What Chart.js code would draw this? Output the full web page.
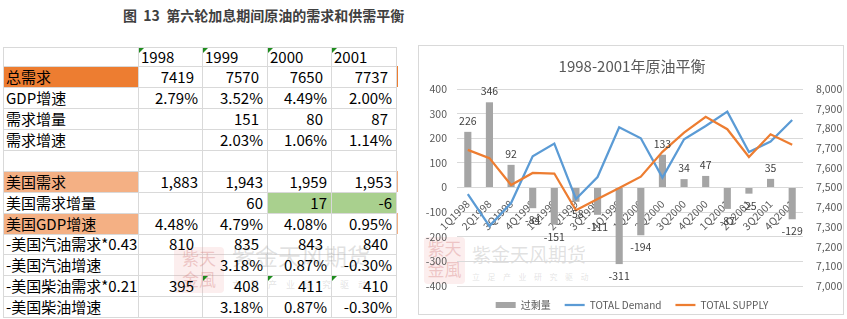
<!DOCTYPE html>
<html>
<head>
<meta charset="utf-8">
<script src="https://cdn.jsdelivr.net/npm/chart.js@4.4.1/dist/chart.umd.min.js"></script>
<style>
html,body{margin:0;padding:0;background:#fff;width:847px;height:319px;overflow:hidden;
  font-family:"Noto Sans CJK SC","Noto Sans",sans-serif;}
#pageTitle{position:absolute;left:123px;top:5px;font-size:14px;font-weight:bold;color:#404040;white-space:pre;line-height:20px;}
#tbl{position:absolute;left:0;top:0;width:420px;height:319px;}
.cell{position:absolute;box-sizing:border-box;white-space:nowrap;font-size:15px;color:#000;line-height:21px;}
.hl{position:absolute;height:1px;background:#D9D9D9;}
.vl{position:absolute;width:1px;background:#D9D9D9;}
.tri{position:absolute;width:0;height:0;border-top:5px solid #1E8C1E;border-right:5px solid transparent;}
.wm{position:absolute;color:rgba(150,150,150,0.28);white-space:nowrap;}
.logo{position:absolute;border-radius:4px;background:rgba(235,150,150,0.16);color:rgba(210,120,120,0.35);
  font-size:17px;line-height:21px;text-align:center;font-family:"Noto Sans CJK SC",serif;}
#chartBox{position:absolute;left:418px;top:45px;width:426px;height:270px;box-sizing:border-box;border:1px solid #D9D9D9;}
#chartWrap{position:absolute;left:419px;top:45px;width:426px;height:275px;}
</style>
</head>
<body>
<div id="pageTitle">图  13  第六轮加息期间原油的需求和供需平衡</div>
<div id="tbl"></div>
<div id="chartBox"></div>
<div class="logo" style="left:424px;top:237px;width:41px;height:47px;">紫天<br>金風</div>
<div class="wm" style="left:472px;top:241px;font-size:19px;line-height:26px;">紫金天风期货</div>
<div class="wm" style="left:472px;top:272px;font-size:8px;letter-spacing:7.5px;line-height:10px;">立足产业研究驱动</div>
<div id="chartWrap"><canvas id="c"></canvas></div>
<script>
// ---------- table data ----------
const years = ['1998', '1999', '2000', '2001'];
const rowLabels = ['总需求', 'GDP增速', '需求增量', '需求增速', '', '美国需求', '美国需求增量', '美国GDP增速',
  '-美国汽油需求*0.43', '-美国汽油增速', '-美国柴油需求*0.21', '-美国柴油增速'];
const totalDemandYear = ['7419', '7570', '7650', '7737'];
const gdpGrowth = ['2.79%', '3.52%', '4.49%', '2.00%'];
const demandIncrease = ['', '151', '80', '87'];
const demandGrowth = ['', '2.03%', '1.06%', '1.14%'];
const blankRow = ['', '', '', ''];
const usDemand = ['1,883', '1,943', '1,959', '1,953'];
const usDemandIncrease = ['', '60', '17', '-6'];
const usGdpGrowth = ['4.48%', '4.79%', '4.08%', '0.95%'];
const usGasoline = ['810', '835', '843', '840'];
const usGasolineGrowth = ['', '3.18%', '0.87%', '-0.30%'];
const usDiesel = ['395', '408', '411', '410'];
const usDieselGrowth = ['', '3.18%', '0.87%', '-0.30%'];
const tableValues = [totalDemandYear, gdpGrowth, demandIncrease, demandGrowth, blankRow, usDemand,
  usDemandIncrease, usGdpGrowth, usGasoline, usGasolineGrowth, usDiesel, usDieselGrowth];

// ---------- chart data ----------
const quarters = ['1Q1998', '2Q1998', '3Q1998', '4Q1998', '1Q1999', '2Q1999', '3Q1999', '4Q1999',
  '1Q2000', '2Q2000', '3Q2000', '4Q2000', '1Q2001', '2Q2001', '3Q2001', '4Q2001'];
const surplus = [226, 346, 92, -84, -151, -58, -111, -311, -194, 133, 34, 47, -87, -25, 35, -129];
const totalDemand = [7466, 7304, 7421, 7658, 7723, 7442, 7553, 7806, 7750, 7550, 7745, 7812, 7885, 7680, 7733, 7843];
const totalSupply = [7691, 7649, 7513, 7574, 7571, 7384, 7442, 7497, 7555, 7681, 7779, 7859, 7796, 7655, 7770, 7717];
const leftTicks = [-400, 400, 100];
const rightTicks = [7000, 8000, 100];

// ---------- build table ----------
(function () {
  const t = document.getElementById('tbl');
  const colX = [3, 138, 202, 267, 331, 396];
  const rowY = [47, 66, 87, 108, 129, 150, 171, 192, 213, 234, 254, 275, 296, 317];
  const add = (cls, css, txt) => { const d = document.createElement('div'); d.className = cls; d.style.cssText = css; if (txt != null) d.textContent = txt; t.appendChild(d); return d; };
  // fills
  const fill = (r, c0, c1, col) => add('cell', `left:${colX[c0]}px;top:${rowY[r]}px;width:${colX[c1] - colX[c0]}px;height:${rowY[r + 1] - rowY[r]}px;background:${col}`);
  fill(1, 0, 1, '#ED7D31');
  add('cell', `left:396px;top:${rowY[1]}px;width:2px;height:${rowY[2] - rowY[1]}px;background:#ED7D31`);
  fill(6, 0, 1, '#F4B084');
  add('cell', `left:396px;top:${rowY[6]}px;width:2px;height:${rowY[7] - rowY[6]}px;background:#F4B084`);
  fill(7, 3, 5, '#A9D08E');
  fill(8, 0, 1, '#F4B084');
  add('cell', `left:396px;top:${rowY[8]}px;width:2px;height:${rowY[9] - rowY[8]}px;background:#F4B084`);
  // grid
  rowY.forEach(y => add('hl', `left:3px;top:${y}px;width:394px`));
  colX.forEach(x => add('vl', `left:${x}px;top:47px;height:271px`));
  // table watermark
  add('logo', 'left:174px;top:247px;width:50px;height:46px;', null).innerHTML = '紫天<br>金風';
  add('wm', 'left:232px;top:240px;font-size:23px;line-height:30px', '紫金天风期货');
  add('wm', 'left:232px;top:280px;font-size:9px;letter-spacing:9px;line-height:10px', '立足产业研究驱动');
  // header
  years.forEach((y, i) => {
    add('cell', `left:${colX[i + 1] + 3}px;top:${rowY[0] - 1}px;line-height:21px`, y);
    add('tri', `left:${colX[i + 1] + 1}px;top:${rowY[0] + 1}px`);
  });
  // rows
  rowLabels.forEach((lab, r) => {
    const top = rowY[r + 1];
    const h = rowY[r + 2] - top;
    add('cell', `left:6px;top:${top}px;height:${h}px;line-height:${h}px`, lab);
    tableValues[r].forEach((v, c) => {
      if (v === '') return;
      const plain = /^-?\d+$/.test(v) && !(r === 6);
      const pr = plain ? 8 : 4;
      add('cell', `left:${colX[c + 1]}px;top:${top}px;width:${colX[c + 2] - colX[c + 1]}px;height:${h}px;line-height:${h}px;text-align:right;padding-right:${pr}px`, v);
    });
  });
  [1, 2, 3].forEach(c => add('tri', `left:${colX[c + 1] + 1}px;top:${rowY[11] + 1}px`));
})();

// ---------- chart ----------
const FONT = '"Noto Sans CJK SC", "Noto Sans", sans-serif';
const barLabels = {
  id: 'barLabels',
  afterDatasetsDraw(chart) {
    const meta = chart.getDatasetMeta(0);
    const ctx = chart.ctx;
    ctx.save();
    ctx.font = '10.5px ' + FONT;
    ctx.fillStyle = '#404040';
    ctx.textAlign = 'center';
    ctx.textBaseline = 'middle';
    meta.data.forEach((el, i) => {
      const v = chart.data.datasets[0].data[i];
      ctx.fillText(String(v), el.x, v >= 0 ? el.y - 11 : el.y + 12);
    });
    ctx.restore();
  }
};

new Chart(document.getElementById('c'), {
  data: {
    labels: quarters,
    datasets: [
      { type: 'bar', label: '过剩量', data: surplus, yAxisID: 'y', backgroundColor: '#A5A5A5',
        barPercentage: 0.33, categoryPercentage: 1, order: 2, pointStyle: 'rect' },
      { type: 'line', label: 'TOTAL Demand', data: totalDemand, yAxisID: 'y1', borderColor: '#5B9BD5',
        backgroundColor: '#5B9BD5', borderWidth: 2.25, pointRadius: 0, tension: 0, order: 1, pointStyle: 'line' },
      { type: 'line', label: 'TOTAL SUPPLY', data: totalSupply, yAxisID: 'y1', borderColor: '#ED7D31',
        backgroundColor: '#ED7D31', borderWidth: 2.25, pointRadius: 0, tension: 0, order: 0, pointStyle: 'line' }
    ]
  },
  options: {
    responsive: true,
    maintainAspectRatio: false,
    animation: false,
    events: [],
    layout: { padding: { left: 0, right: 0, top: 0, bottom: 0 } },
    plugins: {
      tooltip: { enabled: false },
      title: { display: true, text: '1998-2001年原油平衡', color: '#595959',
        font: { family: FONT, size: 15, weight: 'normal' }, padding: { top: 12, bottom: 14 } },
      legend: {
        position: 'bottom',
        labels: { usePointStyle: true, pointStyleWidth: 20, boxHeight: 6, padding: 14, color: '#595959',
          font: { family: FONT, size: 10 },
          sort: (a, b) => a.datasetIndex - b.datasetIndex }
      }
    },
    scales: {
      x: {
        position: { y: 0 },
        grid: { display: false },
        border: { display: false },
        ticks: { minRotation: 45, maxRotation: 45, autoSkip: false, color: '#595959', padding: 2,
          font: { family: FONT, size: 10.5 } }
      },
      y: {
        position: 'left',
        min: leftTicks[0], max: leftTicks[1],
        ticks: { stepSize: leftTicks[2], color: '#595959', padding: 10, font: { family: FONT, size: 10.5 } },
        grid: { color: '#D9D9D9', drawTicks: false },
        border: { display: false },
        afterFit: s => { s.width = 38; }
      },
      y1: {
        position: 'right',
        min: rightTicks[0], max: rightTicks[1],
        ticks: { stepSize: rightTicks[2], color: '#595959', padding: 5, font: { family: FONT, size: 10.5 },
          callback: v => v.toLocaleString('en-US') },
        grid: { display: false },
        border: { display: false },
        afterFit: s => { s.width = 42; }
      }
    }
  },
  plugins: [barLabels]
});
</script>
</body>
</html>
